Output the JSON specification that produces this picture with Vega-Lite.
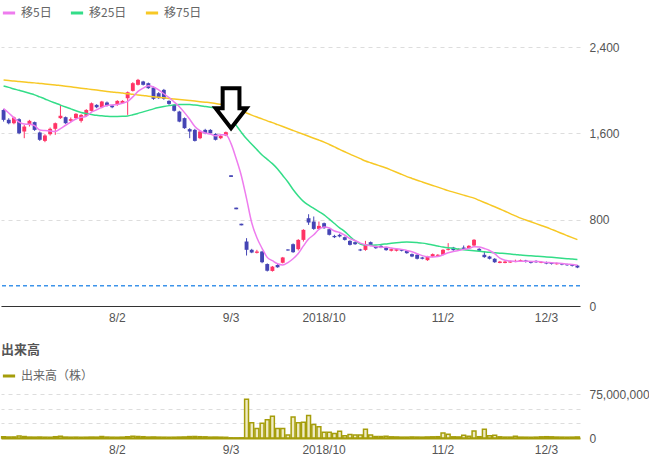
{
"$schema":"https://vega.github.io/schema/vega-lite/v6.json",
"padding":{"left":0,"top":5,"right":5,"bottom":0},
"background":"white",
"spacing":21,
"config":{"font":"Liberation Sans","view":{"stroke":null},
"axis":{"labelColor":"#555","labelFontSize":12,"ticks":false,"domain":false,"gridColor":"#dddddd","gridDash":[4,4],"title":null},
"legend":{"labelFont":"Noto Sans CJK JP","labelFontSize":12,"labelColor":"#666","symbolType":"stroke","symbolStrokeWidth":3,"symbolSize":150,"columnPadding":12,"offset":12}},
"resolve":{"scale":{"color":"independent","stroke":"independent"},"legend":{"color":"independent","stroke":"independent"}},
"datasets":{
"arrow":[{"date":"2018-09-03","price":1834}],
"ref":[{"level":188}],
"prices":[
{"date":"2018-07-02","open":1818,"high":1828,"low":1710,"close":1726,"ma5":1830,"ma25":2040,"ma75":2095,"volume":2000000},
{"date":"2018-07-03","open":1726,"high":1741,"low":1685,"close":1695,"ma5":1790,"ma25":2027,"ma75":2091,"volume":1500000},
{"date":"2018-07-04","open":1695,"high":1757,"low":1685,"close":1748,"ma5":1745,"ma25":2013,"ma75":2087,"volume":1800000},
{"date":"2018-07-05","open":1732,"high":1741,"low":1593,"close":1602,"ma5":1705,"ma25":2000,"ma75":2082,"volume":3500000},
{"date":"2018-07-06","open":1618,"high":1680,"low":1556,"close":1664,"ma5":1687,"ma25":1986,"ma75":2078,"volume":2500000},
{"date":"2018-07-09","open":1680,"high":1726,"low":1664,"close":1717,"ma5":1685,"ma25":1972,"ma75":2073,"volume":1600000},
{"date":"2018-07-10","open":1705,"high":1710,"low":1624,"close":1633,"ma5":1673,"ma25":1958,"ma75":2069,"volume":1500000},
{"date":"2018-07-11","open":1609,"high":1618,"low":1531,"close":1541,"ma5":1631,"ma25":1939,"ma75":2064,"volume":1700000},
{"date":"2018-07-12","open":1531,"high":1593,"low":1519,"close":1581,"ma5":1627,"ma25":1920,"ma75":2059,"volume":1400000},
{"date":"2018-07-13","open":1593,"high":1655,"low":1581,"close":1643,"ma5":1623,"ma25":1900,"ma75":2055,"volume":1300000},
{"date":"2018-07-17","open":1643,"high":1701,"low":1587,"close":1695,"ma5":1619,"ma25":1882,"ma75":2050,"volume":2200000},
{"date":"2018-07-18","open":1742,"high":1865,"low":1735,"close":1764,"ma5":1645,"ma25":1863,"ma75":2044,"volume":3000000},
{"date":"2018-07-19","open":1751,"high":1757,"low":1689,"close":1695,"ma5":1676,"ma25":1845,"ma75":2038,"volume":1600000},
{"date":"2018-07-20","open":1717,"high":1748,"low":1704,"close":1732,"ma5":1706,"ma25":1828,"ma75":2032,"volume":1400000},
{"date":"2018-07-23","open":1742,"high":1788,"low":1732,"close":1782,"ma5":1734,"ma25":1811,"ma75":2026,"volume":1500000},
{"date":"2018-07-24","open":1717,"high":1779,"low":1701,"close":1772,"ma5":1749,"ma25":1795,"ma75":2020,"volume":1300000},
{"date":"2018-07-25","open":1764,"high":1825,"low":1754,"close":1818,"ma5":1760,"ma25":1785,"ma75":2014,"volume":1400000},
{"date":"2018-07-26","open":1809,"high":1887,"low":1803,"close":1880,"ma5":1797,"ma25":1776,"ma75":2008,"volume":1600000},
{"date":"2018-07-27","open":1865,"high":1871,"low":1834,"close":1843,"ma5":1819,"ma25":1768,"ma75":2002,"volume":1500000},
{"date":"2018-07-30","open":1843,"high":1902,"low":1834,"close":1896,"ma5":1842,"ma25":1764,"ma75":1996,"volume":2500000},
{"date":"2018-07-31","open":1887,"high":1896,"low":1850,"close":1856,"ma5":1859,"ma25":1760,"ma75":1990,"volume":1600000},
{"date":"2018-08-01","open":1859,"high":1865,"low":1834,"close":1843,"ma5":1864,"ma25":1758,"ma75":1985,"volume":1400000},
{"date":"2018-08-02","open":1865,"high":1908,"low":1856,"close":1902,"ma5":1868,"ma25":1758,"ma75":1979,"volume":1300000},
{"date":"2018-08-03","open":1880,"high":1908,"low":1874,"close":1902,"ma5":1880,"ma25":1759,"ma75":1974,"volume":1500000},
{"date":"2018-08-06","open":1927,"high":1989,"low":1772,"close":1983,"ma5":1897,"ma25":1762,"ma75":1968,"volume":2000000},
{"date":"2018-08-07","open":1995,"high":2075,"low":1989,"close":2066,"ma5":1939,"ma25":1773,"ma75":1963,"volume":2800000},
{"date":"2018-08-08","open":2051,"high":2106,"low":2045,"close":2097,"ma5":1990,"ma25":1786,"ma75":1957,"volume":2600000},
{"date":"2018-08-09","open":2082,"high":2088,"low":2045,"close":2051,"ma5":2020,"ma25":1800,"ma75":1952,"volume":2200000},
{"date":"2018-08-10","open":2066,"high":2072,"low":2013,"close":2020,"ma5":2043,"ma25":1814,"ma75":1946,"volume":1600000},
{"date":"2018-08-13","open":2026,"high":2035,"low":1912,"close":1921,"ma5":2031,"ma25":1828,"ma75":1941,"volume":1800000},
{"date":"2018-08-14","open":1973,"high":1983,"low":1921,"close":1927,"ma5":2003,"ma25":1840,"ma75":1935,"volume":1500000},
{"date":"2018-08-15","open":2004,"high":2013,"low":1912,"close":1921,"ma5":1968,"ma25":1850,"ma75":1930,"volume":1400000},
{"date":"2018-08-16","open":1902,"high":1908,"low":1865,"close":1874,"ma5":1933,"ma25":1858,"ma75":1925,"volume":1300000},
{"date":"2018-08-17","open":1865,"high":1871,"low":1803,"close":1810,"ma5":1891,"ma25":1865,"ma75":1920,"volume":1400000},
{"date":"2018-08-20","open":1803,"high":1810,"low":1704,"close":1710,"ma5":1848,"ma25":1868,"ma75":1915,"volume":1600000},
{"date":"2018-08-21","open":1742,"high":1748,"low":1643,"close":1649,"ma5":1793,"ma25":1869,"ma75":1910,"volume":1800000},
{"date":"2018-08-22","open":1640,"high":1649,"low":1556,"close":1618,"ma5":1732,"ma25":1868,"ma75":1905,"volume":2400000},
{"date":"2018-08-23","open":1633,"high":1643,"low":1525,"close":1531,"ma5":1664,"ma25":1863,"ma75":1900,"volume":2600000},
{"date":"2018-08-24","open":1556,"high":1624,"low":1547,"close":1618,"ma5":1625,"ma25":1857,"ma75":1895,"volume":2200000},
{"date":"2018-08-27","open":1633,"high":1643,"low":1593,"close":1602,"ma5":1604,"ma25":1850,"ma75":1890,"volume":2000000},
{"date":"2018-08-28","open":1633,"high":1640,"low":1596,"close":1602,"ma5":1594,"ma25":1843,"ma75":1885,"volume":1500000},
{"date":"2018-08-29","open":1596,"high":1602,"low":1535,"close":1541,"ma5":1579,"ma25":1836,"ma75":1878,"volume":1600000},
{"date":"2018-08-30","open":1556,"high":1587,"low":1547,"close":1578,"ma5":1588,"ma25":1820,"ma75":1870,"volume":1400000},
{"date":"2018-08-31","open":1581,"high":1618,"low":1575,"close":1612,"ma5":1587,"ma25":1790,"ma75":1863,"volume":1200000},
{"date":"2018-09-03","open":1212,"high":1212,"low":1197,"close":1197,"ma5":1506,"ma25":1740,"ma75":1855,"volume":300000},
{"date":"2018-09-04","open":912,"high":912,"low":897,"close":897,"ma5":1365,"ma25":1675,"ma75":1835,"volume":200000},
{"date":"2018-09-05","open":763,"high":763,"low":748,"close":748,"ma5":1206,"ma25":1610,"ma75":1812,"volume":300000},
{"date":"2018-09-06","open":598,"high":629,"low":468,"close":521,"ma5":995,"ma25":1550,"ma75":1790,"volume":66000000},
{"date":"2018-09-07","open":521,"high":530,"low":490,"close":496,"ma5":772,"ma25":1500,"ma75":1770,"volume":26000000},
{"date":"2018-09-10","open":493,"high":521,"low":487,"close":505,"ma5":633,"ma25":1450,"ma75":1752,"volume":16000000},
{"date":"2018-09-11","open":505,"high":511,"low":397,"close":406,"ma5":535,"ma25":1400,"ma75":1735,"volume":25000000},
{"date":"2018-09-12","open":389,"high":395,"low":320,"close":327,"ma5":451,"ma25":1360,"ma75":1717,"volume":31000000},
{"date":"2018-09-13","open":325,"high":371,"low":319,"close":365,"ma5":420,"ma25":1320,"ma75":1700,"volume":37000000},
{"date":"2018-09-14","open":380,"high":392,"low":355,"close":359,"ma5":392,"ma25":1270,"ma75":1682,"volume":16000000},
{"date":"2018-09-18","open":401,"high":455,"low":395,"close":450,"ma5":381,"ma25":1210,"ma75":1664,"volume":16000000},
{"date":"2018-09-19","open":524,"high":527,"low":512,"close":515,"ma5":403,"ma25":1150,"ma75":1646,"volume":5000000},
{"date":"2018-09-20","open":573,"high":580,"low":493,"close":499,"ma5":438,"ma25":1080,"ma75":1628,"volume":36000000},
{"date":"2018-09-21","open":527,"high":620,"low":515,"close":613,"ma5":487,"ma25":1020,"ma75":1610,"volume":26000000},
{"date":"2018-09-25","open":613,"high":712,"low":598,"close":706,"ma5":557,"ma25":970,"ma75":1592,"volume":27000000},
{"date":"2018-09-26","open":814,"high":851,"low":752,"close":774,"ma5":621,"ma25":935,"ma75":1574,"volume":38500000},
{"date":"2018-09-27","open":783,"high":830,"low":706,"close":715,"ma5":661,"ma25":905,"ma75":1556,"volume":23000000},
{"date":"2018-09-28","open":715,"high":783,"low":709,"close":743,"ma5":710,"ma25":875,"ma75":1538,"volume":19000000},
{"date":"2018-10-01","open":768,"high":774,"low":716,"close":722,"ma5":732,"ma25":845,"ma75":1520,"volume":10000000},
{"date":"2018-10-02","open":712,"high":718,"low":654,"close":660,"ma5":723,"ma25":805,"ma75":1498,"volume":10000000},
{"date":"2018-10-03","open":650,"high":660,"low":630,"close":638,"ma5":696,"ma25":765,"ma75":1475,"volume":7600000},
{"date":"2018-10-04","open":660,"high":670,"low":636,"close":645,"ma5":682,"ma25":725,"ma75":1452,"volume":11500000},
{"date":"2018-10-05","open":638,"high":644,"low":607,"close":613,"ma5":656,"ma25":690,"ma75":1430,"volume":3700000},
{"date":"2018-10-09","open":604,"high":610,"low":561,"close":567,"ma5":625,"ma25":645,"ma75":1408,"volume":6000000},
{"date":"2018-10-10","open":592,"high":598,"low":567,"close":573,"ma5":607,"ma25":605,"ma75":1387,"volume":5000000},
{"date":"2018-10-11","open":524,"high":530,"low":509,"close":515,"ma5":583,"ma25":575,"ma75":1366,"volume":5000000},
{"date":"2018-10-12","open":520,"high":604,"low":512,"close":573,"ma5":568,"ma25":565,"ma75":1345,"volume":15000000},
{"date":"2018-10-15","open":592,"high":598,"low":555,"close":561,"ma5":558,"ma25":563,"ma75":1328,"volume":5000000},
{"date":"2018-10-16","open":552,"high":558,"low":530,"close":536,"ma5":552,"ma25":565,"ma75":1312,"volume":2500000},
{"date":"2018-10-17","open":558,"high":564,"low":536,"close":542,"ma5":545,"ma25":570,"ma75":1296,"volume":2500000},
{"date":"2018-10-18","open":542,"high":548,"low":512,"close":518,"ma5":546,"ma25":576,"ma75":1280,"volume":3000000},
{"date":"2018-10-19","open":512,"high":533,"low":506,"close":527,"ma5":537,"ma25":582,"ma75":1260,"volume":2000000},
{"date":"2018-10-22","open":512,"high":533,"low":506,"close":527,"ma5":530,"ma25":587,"ma75":1240,"volume":1800000},
{"date":"2018-10-23","open":521,"high":527,"low":506,"close":512,"ma5":525,"ma25":591,"ma75":1220,"volume":1500000},
{"date":"2018-10-24","open":512,"high":518,"low":484,"close":490,"ma5":515,"ma25":593,"ma75":1200,"volume":1500000},
{"date":"2018-10-25","open":481,"high":487,"low":453,"close":459,"ma5":503,"ma25":592,"ma75":1183,"volume":1800000},
{"date":"2018-10-26","open":475,"high":481,"low":432,"close":438,"ma5":485,"ma25":588,"ma75":1166,"volume":1600000},
{"date":"2018-10-29","open":450,"high":456,"low":432,"close":438,"ma5":467,"ma25":583,"ma75":1150,"volume":1500000},
{"date":"2018-10-30","open":425,"high":465,"low":419,"close":459,"ma5":457,"ma25":575,"ma75":1134,"volume":1800000},
{"date":"2018-10-31","open":459,"high":487,"low":453,"close":481,"ma5":455,"ma25":565,"ma75":1118,"volume":2000000},
{"date":"2018-11-01","open":465,"high":481,"low":459,"close":475,"ma5":458,"ma25":556,"ma75":1102,"volume":2200000},
{"date":"2018-11-02","open":475,"high":527,"low":469,"close":521,"ma5":475,"ma25":547,"ma75":1086,"volume":8700000},
{"date":"2018-11-05","open":521,"high":583,"low":515,"close":530,"ma5":493,"ma25":540,"ma75":1070,"volume":6500000},
{"date":"2018-11-06","open":542,"high":548,"low":512,"close":518,"ma5":505,"ma25":535,"ma75":1056,"volume":2000000},
{"date":"2018-11-07","open":518,"high":533,"low":512,"close":527,"ma5":514,"ma25":528,"ma75":1042,"volume":1800000},
{"date":"2018-11-08","open":542,"high":561,"low":524,"close":530,"ma5":525,"ma25":522,"ma75":1028,"volume":4800000},
{"date":"2018-11-09","open":536,"high":564,"low":530,"close":558,"ma5":533,"ma25":517,"ma75":1014,"volume":3000000},
{"date":"2018-11-12","open":561,"high":620,"low":555,"close":614,"ma5":549,"ma25":513,"ma75":1000,"volume":12000000},
{"date":"2018-11-13","open":530,"high":536,"low":506,"close":512,"ma5":548,"ma25":508,"ma75":980,"volume":2200000},
{"date":"2018-11-14","open":475,"high":505,"low":447,"close":453,"ma5":533,"ma25":502,"ma75":960,"volume":15000000},
{"date":"2018-11-15","open":459,"high":465,"low":432,"close":438,"ma5":515,"ma25":498,"ma75":940,"volume":3700000},
{"date":"2018-11-16","open":438,"high":444,"low":400,"close":406,"ma5":485,"ma25":494,"ma75":920,"volume":4800000},
{"date":"2018-11-19","open":399,"high":418,"low":396,"close":412,"ma5":444,"ma25":490,"ma75":900,"volume":2000000},
{"date":"2018-11-20","open":399,"high":418,"low":396,"close":412,"ma5":424,"ma25":486,"ma75":879,"volume":1500000},
{"date":"2018-11-21","open":403,"high":421,"low":400,"close":415,"ma5":417,"ma25":482,"ma75":857,"volume":1500000},
{"date":"2018-11-22","open":412,"high":430,"low":406,"close":418,"ma5":413,"ma25":478,"ma75":836,"volume":3000000},
{"date":"2018-11-26","open":412,"high":431,"low":409,"close":425,"ma5":416,"ma25":472,"ma75":815,"volume":1500000},
{"date":"2018-11-27","open":422,"high":428,"low":403,"close":409,"ma5":416,"ma25":468,"ma75":798,"volume":1400000},
{"date":"2018-11-28","open":412,"high":418,"low":394,"close":400,"ma5":413,"ma25":465,"ma75":781,"volume":1300000},
{"date":"2018-11-29","open":418,"high":424,"low":400,"close":406,"ma5":412,"ma25":462,"ma75":764,"volume":1500000},
{"date":"2018-11-30","open":400,"high":415,"low":397,"close":409,"ma5":410,"ma25":459,"ma75":747,"volume":2000000},
{"date":"2018-12-03","open":406,"high":412,"low":387,"close":393,"ma5":403,"ma25":455,"ma75":730,"volume":2200000},
{"date":"2018-12-04","open":400,"high":406,"low":384,"close":390,"ma5":402,"ma25":451,"ma75":711,"volume":2000000},
{"date":"2018-12-05","open":387,"high":402,"low":384,"close":396,"ma5":399,"ma25":447,"ma75":692,"volume":1600000},
{"date":"2018-12-06","open":393,"high":399,"low":378,"close":384,"ma5":394,"ma25":443,"ma75":672,"volume":1500000},
{"date":"2018-12-07","open":387,"high":393,"low":372,"close":378,"ma5":388,"ma25":439,"ma75":653,"volume":1400000},
{"date":"2018-12-10","open":381,"high":387,"low":366,"close":372,"ma5":384,"ma25":435,"ma75":634,"volume":1500000},
{"date":"2018-12-11","open":375,"high":381,"low":351,"close":357,"ma5":377,"ma25":430,"ma75":615,"volume":1800000}
]},
"vconcat":[
{
"width":579,"height":275,
"layer":[
{"data":{"name":"prices"},"mark":{"type":"rule","strokeWidth":1},
 "encoding":{
  "x":{"field":"date","type":"ordinal","scale":{"paddingInner":0.25,"paddingOuter":0.125},
   "axis":{"values":["2018-08-02","2018-09-03","2018-10-01","2018-11-02","2018-12-03"],
    "labelExpr":"datum.value == '2018-10-01' ? '2018/10' : toNumber(slice(datum.value,5,7)) + '/' + toNumber(slice(datum.value,8,10))",
    "labelAngle":0,"domain":true,"domainColor":"#333","domainWidth":1,"ticks":false,"labelPadding":6,"grid":false,"title":null}},
  "y":{"field":"low","type":"quantitative","scale":{"domain":[0,2550],"nice":false,"zero":true},
   "axis":{"orient":"right","values":[0,800,1600,2400],"labelExpr":"format(datum.value, ',d')","grid":true,"labelPadding":9,"title":null}},
  "y2":{"field":"high"},
  "color":{"condition":{"test":"datum.close >= datum.open","value":"#ff3366"},"value":"#4545b5"}}},
{"data":{"name":"prices"},"mark":{"type":"bar"},
 "encoding":{
  "x":{"field":"date","type":"ordinal"},
  "y":{"field":"open","type":"quantitative","title":null},
  "y2":{"field":"close"},
  "color":{"condition":{"test":"datum.close >= datum.open","value":"#ff3366"},"value":"#4545b5"}}},
{"data":{"name":"ref"},"mark":{"type":"rule","strokeDash":[4,3],"strokeWidth":1.5},
 "encoding":{"y":{"field":"level","type":"quantitative","title":null},"color":{"value":"#3d94ea"}}},
{"data":{"name":"prices"},"mark":{"type":"line","interpolate":"monotone","strokeWidth":1.5},
 "encoding":{"x":{"field":"date","type":"ordinal"},"y":{"field":"ma75","type":"quantitative","title":null},
  "color":{"datum":"移75日","type":"nominal","scale":{"domain":["移5日","移25日","移75日"],"range":["#ee7cee","#33dd88","#f7c825"]},"legend":{"orient":"top","title":null,"direction":"horizontal"}}}},
{"data":{"name":"prices"},"mark":{"type":"line","interpolate":"monotone","strokeWidth":1.5},
 "encoding":{"x":{"field":"date","type":"ordinal"},"y":{"field":"ma25","type":"quantitative","title":null},
  "color":{"datum":"移25日","type":"nominal"}}},
{"data":{"name":"prices"},"mark":{"type":"line","interpolate":"monotone","strokeWidth":1.5},
 "encoding":{"x":{"field":"date","type":"ordinal"},"y":{"field":"ma5","type":"quantitative","title":null},
  "color":{"datum":"移5日","type":"nominal"}}},
{"data":{"name":"arrow"},"mark":{"type":"point","shape":"M-0.42,-1L0.42,-1L0.42,0L0.77,0L0,1L-0.77,0L-0.42,0Z","size":1600,"filled":true,"fill":"white","stroke":"black","strokeWidth":4,"opacity":1,"strokeJoin":"miter"},
 "encoding":{"x":{"field":"date","type":"ordinal"},"y":{"field":"price","type":"quantitative","title":null}}}
]
},
{
"width":579,"height":44,
"title":{"text":"出来高","anchor":"start","fontSize":13,"fontWeight":"bold","color":"#555","font":"Noto Sans CJK JP","offset":11},
"data":{"name":"prices"},
"mark":{"type":"bar","fill":"#efebc4","strokeWidth":1.5},
"encoding":{
 "x":{"field":"date","type":"ordinal","scale":{"paddingInner":0.25,"paddingOuter":0.125},
  "axis":{"values":["2018-08-02","2018-09-03","2018-10-01","2018-11-02","2018-12-03"],
   "labelExpr":"datum.value == '2018-10-01' ? '2018/10' : toNumber(slice(datum.value,5,7)) + '/' + toNumber(slice(datum.value,8,10))",
   "labelAngle":0,"domain":true,"domainColor":"#a59d0a","domainWidth":2,"ticks":false,"labelPadding":6,"grid":false,"title":null}},
 "y":{"field":"volume","type":"quantitative","scale":{"domain":[0,75000000],"nice":false},
  "axis":{"orient":"right","values":[0,25000000,50000000,75000000],"labelExpr":"datum.value == 0 || datum.value == 75000000 ? format(datum.value, ',d') : ''","grid":true,"labelPadding":9,"title":null}},
 "stroke":{"datum":"出来高（株）","type":"nominal","scale":{"domain":["出来高（株）"],"range":["#a59d0a"]},"legend":{"orient":"top","title":null,"offset":12}}
}
}
]
}
